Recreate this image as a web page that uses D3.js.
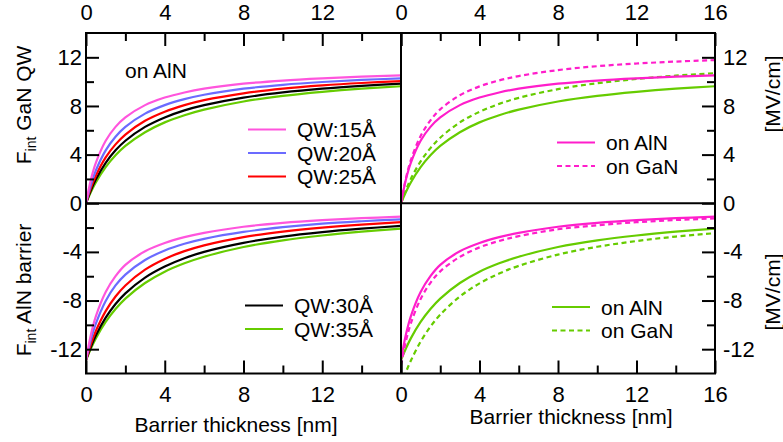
<!DOCTYPE html>
<html>
<head>
<meta charset="utf-8">
<script src="https://cdn.jsdelivr.net/npm/d3@7"></script>
<style>
  body { margin: 0; background: #fff; }
  text { font-family: "Liberation Sans", Arial, sans-serif; fill: #000; }
</style>
</head>
<body>
<div id="chart"></div>
<script>
// barrier thickness [nm]
let thickness = [0, 0.25, 0.5, 1, 1.5, 2, 3, 4, 5, 6, 8, 10, 12, 14, 16]

let qwLabels = ['QW:15Å', 'QW:20Å', 'QW:25Å', 'QW:30Å', 'QW:35Å']

// F_int in the GaN QW, grown on AlN [MV/cm]
let qwOnAlN = [
  [0, 1.95, 3.32, 5.14, 6.28, 7.06, 8.07, 8.69, 9.11, 9.42, 9.83, 10.09, 10.27, 10.41, 10.51],
  [0, 1.53, 2.69, 4.35, 5.47, 6.28, 7.37, 8.07, 8.56, 8.92, 9.42, 9.74, 9.97, 10.14, 10.27],
  [0, 1.26, 2.26, 3.77, 4.84, 5.65, 6.78, 7.53, 8.07, 8.48, 9.04, 9.42, 9.69, 9.89, 10.04],
  [0, 1.07, 1.95, 3.32, 4.35, 5.14, 6.28, 7.06, 7.64, 8.07, 8.69, 9.11, 9.42, 9.65, 9.83],
  [0, 0.93, 1.71, 2.97, 3.94, 4.71, 5.84, 6.65, 7.24, 7.70, 8.37, 8.83, 9.16, 9.42, 9.62]
]

// F_int in the AlN barrier, grown on AlN [MV/cm]
let barrierOnAlN = [
  [-12.9, -10.8, -9.3, -7.3, -6.0, -5.07, -3.95, -3.27, -2.79, -2.43, -1.93, -1.61, -1.39, -1.23, -1.1],
  [-12.9, -11.2, -9.9, -8.03, -6.76, -5.87, -4.67, -3.88, -3.33, -2.93, -2.36, -1.97, -1.68, -1.48, -1.32],
  [-12.9, -11.58, -10.51, -8.87, -7.67, -6.76, -5.46, -4.58, -3.94, -3.46, -2.78, -2.33, -2.0, -1.75, -1.56],
  [-12.9, -11.81, -10.88, -9.41, -8.29, -7.41, -6.11, -5.2, -4.52, -4.0, -3.26, -2.74, -2.37, -2.09, -1.86],
  [-12.9, -11.94, -11.11, -9.76, -8.7, -7.84, -6.56, -5.63, -4.94, -4.4, -3.6, -3.05, -2.65, -2.34, -2.09]
]

// same structures grown on GaN (15 A and 35 A wells only)
let qw15OnGaN = [0, 2.05, 3.54, 5.53, 6.82, 7.72, 8.88, 9.61, 10.1, 10.46, 10.95, 11.27, 11.49, 11.65, 11.77]
let qw35OnGaN = [0, 1.08, 2.0, 3.44, 4.53, 5.39, 6.65, 7.52, 8.17, 8.67, 9.38, 9.87, 10.22, 10.49, 10.7]
let barrier15OnGaN = [-13.3, -11.34, -9.89, -7.87, -6.54, -5.6, -4.41, -3.63, -3.1, -2.7, -2.14, -1.81, -1.56, -1.38, -1.25]
let barrier35OnGaN = [-15, -13.9, -12.95, -11.38, -10.15, -9.16, -7.67, -6.59, -5.78, -5.15, -4.22, -3.58, -3.11, -2.74, -2.46]

let xMajor = [0, 4, 8, 12, 16]
let xMinor = [2, 6, 10, 14]
let yMajor = [-12, -8, -4, 0, 4, 8, 12]
let yMinor = [-10, -6, -2, 2, 6, 10]

let qwColors = ['#ff55dd', '#6b6bff', '#ff0000', '#000000', '#66cc00']
let pink = '#ff1ecb'
let green = '#66cc00'

////////////////////
let W = 783, H = 442
let fontSize = 21
let tickFont = 22
let svg = d3.select('#chart')
  .append('svg')
  .attr('width', W)
  .attr('height', H)
  .attr('xmlns', 'http://www.w3.org/2000/svg')

let xLeft = 86, xMid = 401, xRight = 715, yTop = 33, yBottom = 373.5
let xL = d3.scaleLinear().domain([0, 16]).range([xLeft, xMid])
let xR = d3.scaleLinear().domain([0, 16]).range([xMid, xRight])
let y = d3.scaleLinear().domain([-14, 14]).range([yBottom, yTop])

svg.append('defs').append('clipPath')
  .attr('id', 'frame')
  .append('rect')
  .attr('x', xLeft).attr('y', yTop)
  .attr('width', xRight - xLeft).attr('height', yBottom - yTop)

let plot = svg.append('g').attr('clip-path', 'url(#frame)')

function curve(x, values, color, dashed) {
  let line = d3.line()
    .x((d, i) => x(thickness[i]))
    .y(d => y(d))
    .curve(d3.curveCatmullRom.alpha(0.5))
  plot.append('path')
    .datum(values)
    .attr('d', line)
    .attr('fill', 'none')
    .attr('stroke', color)
    .attr('stroke-width', 2.2)
    .attr('stroke-dasharray', dashed ? '5,3.5' : null)
}

// left panels: all wells on AlN
for (let i = qwLabels.length - 1; i >= 0; i--) {
  curve(xL, qwOnAlN[i], qwColors[i])
  curve(xL, barrierOnAlN[i], qwColors[i])
}

// right panels: AlN vs GaN substrate
curve(xR, qwOnAlN[4], green)
curve(xR, qw35OnGaN, green, true)
curve(xR, qwOnAlN[0], pink)
curve(xR, qw15OnGaN, pink, true)
curve(xR, barrierOnAlN[4], green)
curve(xR, barrier35OnGaN, green, true)
curve(xR, barrierOnAlN[0], pink)
curve(xR, barrier15OnGaN, pink, true)

// axes, ticks point inwards
function styleAxis(g) {
  g.select('.domain').remove()
  g.selectAll('line').attr('stroke-width', 2)
  g.selectAll('text')
    .attr('font-size', tickFont)
    .attr('font-family', '"Liberation Sans", Arial, sans-serif')
}

function xAxes(x, labels) {
  let fmt = d => labels.includes(d) ? String(d) : ''
  svg.append('g').attr('transform', `translate(0,${yTop})`)
    .call(d3.axisTop(x).tickValues(xMajor).tickSize(-13).tickPadding(13).tickFormat(fmt))
    .call(styleAxis)
  svg.append('g').attr('transform', `translate(0,${yTop})`)
    .call(d3.axisTop(x).tickValues(xMinor).tickSize(-8).tickFormat(''))
    .call(styleAxis)
  svg.append('g').attr('transform', `translate(0,${yBottom})`)
    .call(d3.axisBottom(x).tickValues(xMajor).tickSize(-13).tickPadding(13).tickFormat(fmt))
    .call(styleAxis)
  svg.append('g').attr('transform', `translate(0,${yBottom})`)
    .call(d3.axisBottom(x).tickValues(xMinor).tickSize(-8).tickFormat(''))
    .call(styleAxis)
}
xAxes(xL, [0, 4, 8, 12])
xAxes(xR, [0, 4, 8, 12, 16])

svg.append('g').attr('transform', `translate(${xLeft},0)`)
  .call(d3.axisLeft(y).tickValues(yMajor).tickSize(-13).tickPadding(4).tickFormat(d => String(d)))
  .call(styleAxis)
svg.append('g').attr('transform', `translate(${xLeft},0)`)
  .call(d3.axisLeft(y).tickValues(yMinor).tickSize(-8).tickFormat(''))
  .call(styleAxis)
svg.append('g').attr('transform', `translate(${xRight},0)`)
  .call(d3.axisRight(y).tickValues(yMajor).tickSize(-13).tickPadding(8).tickFormat(d => String(d)))
  .call(styleAxis)
svg.append('g').attr('transform', `translate(${xRight},0)`)
  .call(d3.axisRight(y).tickValues(yMinor).tickSize(-8).tickFormat(''))
  .call(styleAxis)

// frame and panel dividers
svg.append('rect')
  .attr('x', xLeft).attr('y', yTop)
  .attr('width', xRight - xLeft).attr('height', yBottom - yTop)
  .attr('fill', 'none').attr('stroke', '#000').attr('stroke-width', 2)
svg.append('line')
  .attr('x1', xMid).attr('x2', xMid).attr('y1', yTop).attr('y2', yBottom)
  .attr('stroke', '#000').attr('stroke-width', 2)
svg.append('line')
  .attr('x1', xLeft).attr('x2', xRight).attr('y1', y(0)).attr('y2', y(0))
  .attr('stroke', '#000').attr('stroke-width', 2)

// legends
function legend(x0, y0, rows) {
  rows.forEach((r, i) => {
    let yy = y0 + i * 23.5
    svg.append('line')
      .attr('x1', x0).attr('x2', x0 + 38).attr('y1', yy).attr('y2', yy)
      .attr('stroke', r.color).attr('stroke-width', 2.2)
      .attr('stroke-dasharray', r.dashed ? '5,3.5' : null)
    svg.append('text')
      .attr('x', x0 + 49).attr('y', yy).attr('dy', '0.36em')
      .attr('font-size', fontSize)
      .text(r.label)
  })
}
legend(248, 129.5, qwLabels.slice(0, 3).map((l, i) => ({ label: l, color: qwColors[i] })))
legend(245, 305.5, qwLabels.slice(3).map((l, i) => ({ label: l, color: qwColors[i + 3] })))
legend(557, 142.5, [{ label: 'on AlN', color: pink }, { label: 'on GaN', color: pink, dashed: true }])
legend(552, 307, [{ label: 'on AlN', color: green }, { label: 'on GaN', color: green, dashed: true }])

svg.append('text')
  .attr('x', 125).attr('y', 78)
  .attr('font-size', fontSize)
  .text('on AlN')

// axis titles
function fTitle(cx, cy, rest) {
  let t = svg.append('text')
    .attr('transform', `translate(${cx},${cy}) rotate(-90)`)
    .attr('text-anchor', 'middle')
    .attr('font-size', fontSize)
  t.append('tspan').text('F')
  t.append('tspan').attr('font-size', 14).attr('dy', 5).text('int')
  t.append('tspan').attr('dy', -5).text(' ' + rest)
}
fTitle(31, 105, 'GaN QW')
fTitle(31, 290, 'AlN barrier')

for (let cy of [94, 292]) {
  svg.append('text')
    .attr('transform', `translate(780,${cy}) rotate(-90)`)
    .attr('text-anchor', 'middle')
    .attr('font-size', fontSize)
    .text('[MV/cm]')
}

svg.append('text')
  .attr('x', 236).attr('y', 432)
  .attr('text-anchor', 'middle')
  .attr('font-size', fontSize)
  .text('Barrier thickness [nm]')
svg.append('text')
  .attr('x', 571).attr('y', 424)
  .attr('text-anchor', 'middle')
  .attr('font-size', fontSize)
  .text('Barrier thickness [nm]')
</script>
</body>
</html>
